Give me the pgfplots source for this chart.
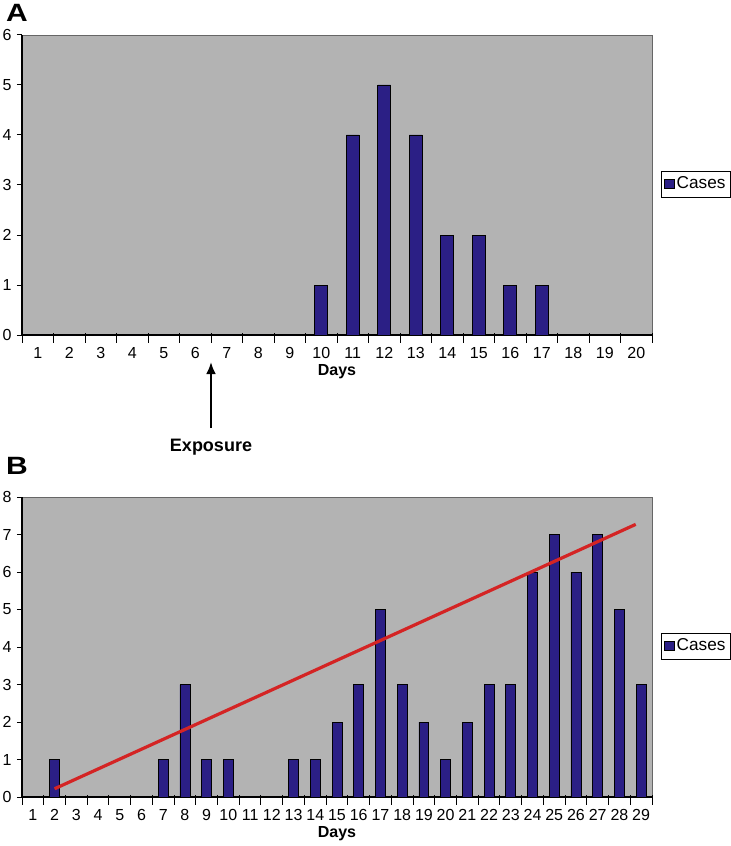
\documentclass[border=0pt]{standalone}
\usepackage{fontspec}
\setmainfont{Liberation Sans}
\usepackage{pgfplots}
\pgfplotsset{compat=1.18}
\usetikzlibrary{arrows.meta}

\definecolor{plotgray}{RGB}{179,179,179}
\definecolor{barblue}{RGB}{43,31,133}
\definecolor{trendred}{RGB}{212,36,36}

\pgfplotsset{
  casechart/.style={
    scale only axis,
    width=315pt, height=150pt,
    axis lines=left,
    axis line style={-, black, line width=0.6pt},
    axis background/.style={fill=plotgray, draw=gray!80!black},
    ymin=0,
    ytick distance=1,
    xtick=data,
    major x tick style={draw=none},
    minor tick length=5pt,
    major tick length=2.5pt,
    tick align=outside,
    x tick style={black, line width=0.5pt},
    y tick style={black, line width=0.5pt},
    minor x tick style={black, line width=0.5pt, yshift=1.2pt},
    tick label style={font=\fontsize{8}{9}\selectfont},
    yticklabel style={xshift=0.8pt},
    /pgf/number format/assume math mode=true,
    xlabel={\textbf{Days}},
    xlabel style={font=\fontsize{8}{9}\selectfont, yshift=4pt},
    legend style={at={(1.014,0.503)}, anchor=west, draw=black, line width=0.5pt,
      font=\fontsize{8.6}{9}\selectfont, inner sep=1.5pt, row sep=0pt,
      nodes={inner sep=1.2pt}},
    legend image code/.code={\draw[fill=barblue, draw=black, line width=0.4pt] (-0.6pt,-2.3pt) rectangle (4pt,2.3pt);},
    clip=false,
  },
}

\begin{document}
\begin{tikzpicture}
\path[use as bounding box] (-11pt,-255.5pt) rectangle (354pt,167.5pt);

% Panel A
\begin{axis}[casechart,
    xmin=0.5, xmax=20.5, ymax=6,
    minor xtick={0.5,1.5,...,20.5},
    xticklabels={1,2,3,4,5,6,7,8,9,10,11,12,13,14,15,16,17,18,19,20},
  ]
  \addplot[ybar, bar width=0.41, fill=barblue, draw=black, line width=0.4pt]
    coordinates {(1,0)(2,0)(3,0)(4,0)(5,0)(6,0)(7,0)(8,0)(9,0)(10,1)
                 (11,4)(12,5)(13,4)(14,2)(15,2)(16,1)(17,1)(18,0)(19,0)(20,0)};
  \addlegendentry{Cases}
  \node[font=\fontsize{12.5}{13}\selectfont\bfseries, xscale=1.2] at (rel axis cs:-0.008,1.072) {A};
  \draw[-{Latex[length=6pt,width=5pt]}, line width=1.2pt] (axis cs:6.5,-1.86) -- (axis cs:6.5,-0.54);
  \node[font=\fontsize{9}{10}\selectfont\bfseries] at (axis cs:6.5,-2.24) {Exposure};
\end{axis}

% Panel B
\begin{axis}[casechart, at={(0pt,-231pt)},
    xmin=0.5, xmax=29.5, ymax=8,
    minor xtick={0.5,1.5,...,29.5},
    xticklabels={1,2,3,4,5,6,7,8,9,10,11,12,13,14,15,16,17,18,19,20,21,22,23,24,25,26,27,28,29},
  ]
  \addplot[ybar, bar width=0.46, fill=barblue, draw=black, line width=0.4pt]
    coordinates {(1,0)(2,1)(3,0)(4,0)(5,0)(6,0)(7,1)(8,3)(9,1)(10,1)
                 (11,0)(12,0)(13,1)(14,1)(15,2)(16,3)(17,5)(18,3)(19,2)(20,1)
                 (21,2)(22,3)(23,3)(24,6)(25,7)(26,6)(27,7)(28,5)(29,3)};
  \addlegendentry{Cases}
  \addplot[trendred, line width=1.6pt, forget plot] coordinates {(2,0.22)(28.75,7.27)};
  \node[font=\fontsize{12.5}{13}\selectfont\bfseries, xscale=1.2] at (rel axis cs:-0.008,1.103) {B};
\end{axis}
\end{tikzpicture}
\end{document}
